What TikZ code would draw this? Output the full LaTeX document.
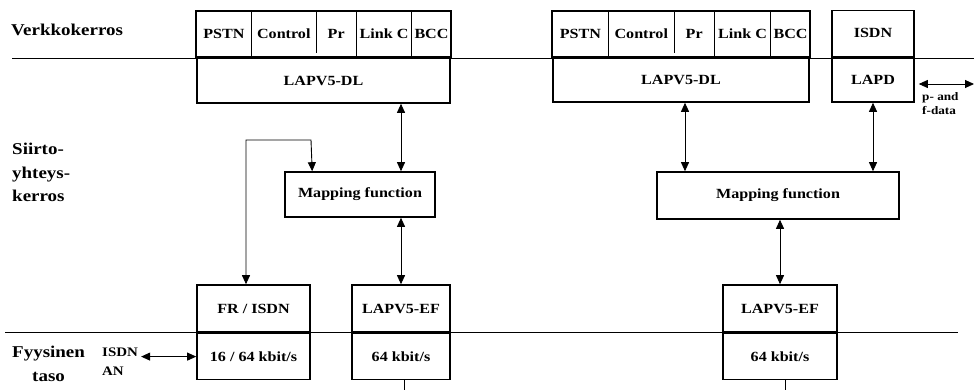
\documentclass[tikz,border=0pt]{standalone}
\usepackage{fontspec}
\setmainfont{Liberation Serif}[FakeStretch=1.15]
\usepackage{tikz}
\usetikzlibrary{positioning}
\usetikzlibrary{arrows.meta}
\newcommand{\boxfont}{\fontsize{14}{16}\selectfont\bfseries}
\newcommand{\lblfont}{\fontsize{16.5}{23.5}\selectfont\bfseries}
\tikzset{
    blk/.style = {draw, fill = white, line width = 1.6pt, inner sep = 0pt, font = \boxfont},
    cell/.style = {inner sep = 0pt, minimum height = 46pt, font = \boxfont},
    lbl/.style = {inner sep = 0pt, font = \lblfont},
    link/.style = {{Triangle[length = 9pt, width = 8pt]}-{Triangle[length = 9pt, width = 8pt]}, line width = 0.9pt},
    rule/.style = {line width = 0.9pt}
}

\begin{document}
\begin{tikzpicture}[x = 1pt, y = -1pt]
        \useasboundingbox (0, 0) rectangle (974, 390);

        % layer borders
        \draw[rule] (12, 58) -- (974, 58);
        \draw[rule] (5, 332) -- (958, 332);

        \node (verk) [lbl, anchor = west] at (11, 30) {Verkkokerros};
        \node (siirto) [lbl, anchor = north west, align = left] at (12, 143) {Siirto-\\yhteys-\\kerros};
        \node (fyys) [lbl, anchor = north west, align = center] at (12, 346) {Fyysinen\\taso};

        % left side
        \node (dlL) [blk, minimum width = 253pt, minimum height = 45pt] at (323.5, 80.5) {LAPV5-DL};
        \node (pstnL) [cell, minimum width = 55pt, anchor = south west] at (dlL.north west) {PSTN};
        \node (ctrlL) [cell, minimum width = 64pt, right = 0pt of pstnL] {Control};
        \node (prL) [cell, minimum width = 40pt, right = 0pt of ctrlL] {Pr};
        \node (linkL) [cell, minimum width = 55pt, right = 0pt of prL] {Link C};
        \node (bccL) [cell, minimum width = 39pt, right = 0pt of linkL] {BCC};
        \draw[rule] (pstnL.north east) -- (pstnL.south east);
        \draw[rule] (ctrlL.north east) -- ([yshift = 4pt]ctrlL.south east);
        \draw[rule] (prL.north east) -- (prL.south east);
        \draw[rule] (linkL.north east) -- (linkL.south east);
        \draw[line width = 1.6pt] (pstnL.north west) rectangle (bccL.south east);

        \node (mapL) [blk, minimum width = 150pt, minimum height = 45pt] at (360, 194.5) {Mapping function};

        \node (frL) [blk, minimum width = 113pt, minimum height = 47pt] at (253.5, 308.5) {FR / ISDN};
        \node (rateL) [blk, minimum width = 113pt, minimum height = 46pt, below = 0pt of frL] {16 / 64 kbit/s};
        \node (efL) [blk, minimum width = 98pt, minimum height = 47pt] at (401, 308.5) {LAPV5-EF};
        \node (ef64L) [blk, minimum width = 98pt, minimum height = 46pt, below = 0pt of efL] {64 kbit/s};

        \node (isdnan) [anchor = north west, inner sep = 0pt, align = left, font = \fontsize{13}{19}\selectfont\bfseries] at (102, 348) {ISDN\\AN};

        % right side
        \node (dlR) [blk, minimum width = 256pt, minimum height = 44pt] at (681, 80) {LAPV5-DL};
        \node (pstnR) [cell, minimum width = 56pt, anchor = south west] at (dlR.north west) {PSTN};
        \node (ctrlR) [cell, minimum width = 65pt, right = 0pt of pstnR] {Control};
        \node (prR) [cell, minimum width = 40pt, right = 0pt of ctrlR] {Pr};
        \node (linkR) [cell, minimum width = 56pt, right = 0pt of prR] {Link C};
        \node (bccR) [cell, minimum width = 39pt, right = 0pt of linkR] {BCC};
        \draw[rule] (pstnR.north east) -- (pstnR.south east);
        \draw[rule] (ctrlR.north east) -- ([yshift = 4pt]ctrlR.south east);
        \draw[rule] (prR.north east) -- (prR.south east);
        \draw[rule] (linkR.north east) -- (linkR.south east);
        \draw[line width = 1.6pt] (pstnR.north west) rectangle (bccR.south east);

        \node (lapd) [blk, minimum width = 82pt, minimum height = 44pt] at (873, 80) {LAPD};
        \node (isdn) [blk, minimum width = 82pt, minimum height = 46pt, above = 0pt of lapd] {ISDN};
        \node (pfdata) [anchor = north west, inner sep = 0pt, align = left, font = \fontsize{11.5}{14}\selectfont\bfseries] at (922, 92) {p- and\\f-data};

        \node (mapR) [blk, minimum width = 242pt, minimum height = 47pt] at (778, 195.5) {Mapping function};

        \node (efR) [blk, minimum width = 114pt, minimum height = 47pt] at (780, 308.5) {LAPV5-EF};
        \node (ef64R) [blk, minimum width = 114pt, minimum height = 46pt, below = 0pt of efR] {64 kbit/s};

        \coordinate (fbk) at (246, 140);
        \coordinate (fbe) at (311, 140);
        \coordinate (pfend) at (974, 84);
        \coordinate (downL) at (404, 390);
        \coordinate (downR) at (785, 390);

        \draw[link] (dlL.south -| efL.north) -- (mapL.north -| efL.north);
        \draw[link] (mapL.south -| efL.north) -- (efL.north);
        \draw[link] (fbk |- frL.north) -- (fbk) -- (fbe) -- ([xshift = 28pt]mapL.north west);
        \draw[link] (isdnan.north east |- rateL.west) ++(3, 0) -- (rateL.west);

        \draw[link] ([xshift = 4pt]dlR.south) -- ([xshift = 4pt]mapR.north -| dlR.south);
        \draw[link] (lapd.south) -- (mapR.north -| lapd.south);
        \draw[link] (mapR.south -| efR.north) -- (efR.north);
        \draw[link] ([xshift = 4pt]lapd.east |- pfend) -- (pfend);

        \draw[rule] (ef64L.south -| downL) -- (downL);
        \draw[rule] (ef64R.south -| downR) -- (downR);
    \end{tikzpicture}
\end{document}
